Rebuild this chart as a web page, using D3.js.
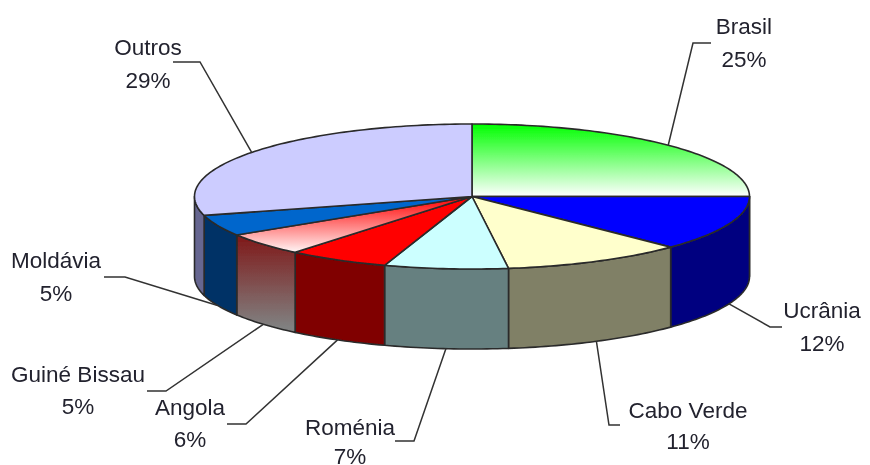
<!DOCTYPE html>
<html><head><meta charset="utf-8">
<script src="https://cdn.jsdelivr.net/npm/d3@7"></script>
<style>html,body{margin:0;padding:0;background:#fff}svg{display:block}text{font-family:"Liberation Sans",Arial,sans-serif;font-size:22.5px;fill:#22222e;text-anchor:middle}</style>
</head><body><svg id="c" width="870" height="465"></svg>
<script>
const categories = ["Brasil","Ucrânia","Cabo Verde","Roménia","Angola","Guiné Bissau","Moldávia","Outros"];
const values = [25,12.3,10.6,7.2,5.9,5.1,4.7,29.2];
const topColors = ["url(#gBrasil)","#0000ff","#ffffcc","#ccffff","#ff0000","url(#gGuineTop)","#0066cc","#ccccff"];
const sideColors = ["#808080","#000080","#808066","#668080","#800000","url(#gGuineSide)","#003366","#666690"];

// layout only
const cx=472, cy=196.5, rx=277.5, ry=72.5, depth=80;
const labelCenters=[[744,34],[822,318],[688,418],[350,435],[190,415],[78,382],[56,268],[148,55]];
const lineGaps=[33,33,31,29,32,32,33,33];
const elbows=[[[711,43],[693,43]],[[782,327],[770,327]],[[620,425],[609,425]],[[395,441],[414,441]],[[227,424],[246,424]],[[147,391],[166,391]],[[104,277],[125,277]],[[173,62],[200,62]]];

const svg=d3.select("#c");
const defs=svg.append("defs");
function grad(id,y1,y2,stops){
  const g=defs.append("linearGradient").attr("id",id).attr("gradientUnits","userSpaceOnUse")
    .attr("x1",0).attr("x2",0).attr("y1",y1).attr("y2",y2);
  stops.forEach(([o,c])=>g.append("stop").attr("offset",o).attr("stop-color",c));
}
grad("gBrasil",cy-ry,cy,[[0,"#00ff00"],[1,"#ffffff"]]);
grad("gGuineTop",cy,cy+ry*0.8,[[0,"#ff0000"],[1,"#ffffff"]]);
grad("gGuineSide",cy+ry*0.5,cy+ry*0.5+depth+14,[[0,"#7f1515"],[1,"#808080"]]);
defs.append("filter").attr("id","soft").attr("x",0).attr("y",0).attr("width",1).attr("height",1)
  .append("feGaussianBlur").attr("stdDeviation",0.45);

const root=svg.append("g").attr("filter","url(#soft)");
const pie=d3.pie().sort(null).value(d=>d)(values);
const px=d3.scaleLinear().domain([-1,1]).range([cx-rx,cx+rx]);
const py=d3.scaleLinear().domain([-1,1]).range([cy-ry,cy+ry]);
const X=a=>px(Math.sin(a)), Y=a=>py(-Math.cos(a));
const line=d3.line();
const samples=(a0,a1)=>{const n=Math.max(2,Math.ceil((a1-a0)/0.02));return d3.range(n+1).map(i=>a0+(a1-a0)*i/n);};
const edge="#2b2b2b";

// side walls
const front0=Math.PI/2, front1=Math.PI*1.5;
pie.forEach((s,i)=>{
  const a0=Math.max(s.startAngle,front0), a1=Math.min(s.endAngle,front1);
  if(a1<=a0) return;
  const ang=samples(a0,a1);
  const pts=ang.map(a=>[X(a),Y(a)]).concat(ang.slice().reverse().map(a=>[X(a),Y(a)+depth]));
  root.append("path").attr("d",line(pts)+"Z").attr("fill",sideColors[i]).attr("stroke",edge).attr("stroke-width",1.6).attr("stroke-linejoin","round");
});
// top faces
pie.forEach((s,i)=>{
  const pts=[[cx,cy]].concat(samples(s.startAngle,s.endAngle).map(a=>[X(a),Y(a)]));
  root.append("path").attr("d",line(pts)+"Z").attr("fill",topColors[i]).attr("stroke",edge).attr("stroke-width",1.6).attr("stroke-linejoin","round");
});
// leaders and labels
pie.forEach((s,i)=>{
  const m=(s.startAngle+s.endAngle)/2;
  const front=m>front0&&m<front1;
  const start=[X(m),Y(m)+(front?depth:0)];
  root.append("path").attr("d",line([start,elbows[i][1],elbows[i][0]])).attr("fill","none").attr("stroke","#333").attr("stroke-width",1.5);
  const t=root.append("text").attr("x",labelCenters[i][0]).attr("y",labelCenters[i][1]);
  t.append("tspan").attr("x",labelCenters[i][0]).text(categories[i]);
  t.append("tspan").attr("x",labelCenters[i][0]).attr("dy",lineGaps[i]).text(d3.format(".0f")(values[i])+"%");
});
</script></body></html>
